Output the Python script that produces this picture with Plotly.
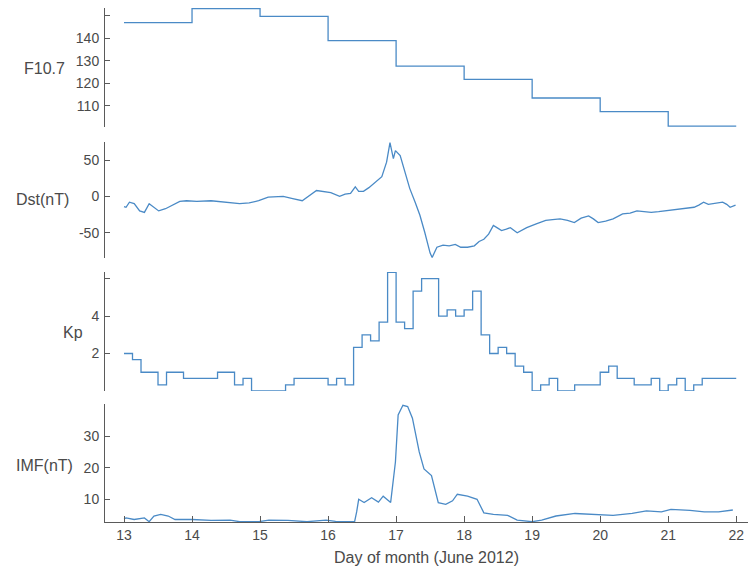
import plotly.graph_objects as go

# ---------------- data ----------------
f107_day = [13, 14, 15, 16, 17, 18, 19, 20, 21, 22]
f107_val = [147, 153.2, 149.8, 139, 127.7, 121.8, 113.5, 107.4, 101, 101]

dst_day = [13.0, 13.03, 13.08, 13.15, 13.23, 13.30, 13.37, 13.44, 13.51, 13.61, 13.72, 13.82,
           13.92, 14.07, 14.28, 14.49, 14.70, 14.84, 14.98, 15.12, 15.34, 15.48, 15.62, 15.83,
           15.95, 16.04, 16.17, 16.25, 16.33, 16.40, 16.45, 16.52, 16.60, 16.71, 16.79, 16.86,
           16.91, 16.96, 16.99, 17.06, 17.13, 17.20, 17.28, 17.35, 17.42, 17.50, 17.53, 17.60,
           17.69, 17.78, 17.87, 17.95, 18.05, 18.15, 18.22, 18.29, 18.36, 18.43, 18.50, 18.55,
           18.62, 18.68, 18.78, 18.85, 18.92, 19.06, 19.13, 19.20, 19.30, 19.41, 19.52, 19.62,
           19.72, 19.83, 19.90, 19.97, 20.08, 20.19, 20.33, 20.44, 20.54, 20.65, 20.75, 20.86,
           20.96, 21.07, 21.17, 21.28, 21.38, 21.45, 21.52, 21.59, 21.66, 21.73, 21.80, 21.86,
           21.91, 21.99]
dst_val = [-14, -15, -8, -10, -20, -22, -10, -15, -20, -17, -12, -7,
           -6, -7, -6, -8, -10, -9, -6, -1, 0, -3, -6, 8,
           6, 5, 0, 3, 4, 13, 7, 7, 12, 20, 27, 47,
           74, 52, 63, 56, 35, 11, -8, -26, -49, -78, -84, -70,
           -67, -68, -66, -70, -70, -68, -62, -59, -52, -40, -44, -47,
           -45, -43, -50, -46, -43, -38, -35, -33, -32, -31, -33, -36,
           -30, -27, -31, -36, -34, -31, -24, -23, -20, -21, -22, -21,
           -20, -19, -17, -16, -15, -12, -8, -11, -10, -9, -8, -11,
           -15, -12]

kp_val = [2.0, 1.67, 1.0, 1.0, 0.33, 1.0, 1.0, 0.67,
          0.67, 0.67, 0.67, 1.0, 1.0, 0.33, 0.67, 0.0,
          0.0, 0.0, 0.0, 0.33, 0.67, 0.67, 0.67, 0.67,
          0.33, 0.67, 0.33, 2.33, 3.0, 2.67, 3.67, 6.33,
          3.67, 3.33, 5.33, 6.0, 6.0, 4.0, 4.33, 4.0,
          4.33, 5.33, 3.0, 2.0, 2.33, 2.0, 1.33, 1.0,
          0.0, 0.33, 0.67, 0.0, 0.0, 0.33, 0.33, 0.33,
          1.0, 1.33, 0.67, 0.67, 0.33, 0.33, 0.67, 0.0,
          0.33, 0.67, 0.0, 0.33, 0.67, 0.67, 0.67, 0.67]
kp_day = [13 + i / 8 for i in range(len(kp_val) + 1)]
kp_plot = kp_val + [kp_val[-1]]

imf_day = [13.0, 13.03, 13.15, 13.30, 13.37, 13.44, 13.54, 13.65, 13.75, 14.00, 14.28, 14.56,
           14.70, 14.98, 15.13, 15.41, 15.69, 15.97, 16.11, 16.39, 16.42, 16.45, 16.53, 16.64,
           16.74, 16.81, 16.92, 16.99, 17.03, 17.10, 17.17, 17.24, 17.34, 17.41, 17.52, 17.62,
           17.73, 17.83, 17.90, 18.05, 18.19, 18.29, 18.43, 18.64, 18.78, 19.00, 19.14, 19.35,
           19.63, 19.91, 20.19, 20.47, 20.68, 20.90, 21.04, 21.32, 21.53, 21.74, 21.95]
imf_val = [3.8, 4.1, 3.6, 4.1, 2.9, 4.7, 5.2, 4.7, 3.6, 3.6, 3.3, 3.4,
           2.9, 2.9, 3.4, 3.3, 2.9, 3.4, 3.0, 2.9, 6.0, 10.0, 9.0, 10.5,
           9.1, 11.0, 9.0, 21.8, 36.7, 39.8, 39.4, 35.7, 25.0, 19.6, 17.5, 8.9,
           8.4, 9.5, 11.6, 11.0, 10.0, 5.7, 5.2, 4.9, 3.4, 2.9, 3.4, 4.7,
           5.5, 5.2, 4.9, 5.5, 6.3, 6.0, 6.8, 6.5, 6.0, 6.0, 6.6]

x_ticks = [13, 14, 15, 16, 17, 18, 19, 20, 21, 22]

# ---------------- styling ----------------
W, H = 748, 572
L, R, T, B = 105, 0, 8, 50
line_col = '#4a8ac6'
axis_col = '#5a5a5a'
txt_col = '#4a4a4a'
FONT = 'Liberation Sans, Arial, sans-serif'
plot_h = H - T - B


def dom(top_px, bot_px):
    return [(H - B - bot_px) / plot_h, (H - B - top_px) / plot_h]


fig = go.Figure()
fig.add_trace(go.Scatter(x=f107_day, y=f107_val, mode='lines',
                         line=dict(color=line_col, width=1.3, shape='hv'),
                         xaxis='x', yaxis='y'))
fig.add_trace(go.Scatter(x=dst_day, y=dst_val, mode='lines',
                         line=dict(color=line_col, width=1.3),
                         xaxis='x', yaxis='y2'))
fig.add_trace(go.Scatter(x=kp_day, y=kp_plot, mode='lines',
                         line=dict(color=line_col, width=1.3, shape='hv'),
                         xaxis='x', yaxis='y3'))
fig.add_trace(go.Scatter(x=imf_day, y=imf_val, mode='lines',
                         line=dict(color=line_col, width=1.3),
                         xaxis='x', yaxis='y4'))

yax_common = dict(showline=True, linecolor=axis_col, linewidth=1, ticks='inside',
                  ticklen=5, tickcolor=axis_col, showgrid=False, zeroline=False,
                  anchor='x', tickfont=dict(family=FONT, size=14, color=txt_col),
                  ticklabelstandoff=2)

fig.update_layout(
    width=W, height=H,
    margin=dict(l=L, r=R, t=T, b=B),
    paper_bgcolor='white', plot_bgcolor='white',
    showlegend=False,
    xaxis=dict(domain=[0, 1], range=[12.7207, 22.173], anchor='y4',
               showline=True, linecolor=axis_col, linewidth=1,
               ticks='inside', ticklen=6, tickcolor=axis_col,
               tickvals=x_ticks, ticktext=[str(v) for v in x_ticks],
               showgrid=False, zeroline=False, ticklabeloverflow='allow',
               tickfont=dict(family=FONT, size=14, color=txt_col),
               title=dict(text='Day of month (June 2012)', standoff=10,
                          font=dict(family=FONT, size=16, color=txt_col))),
    yaxis=dict(domain=dom(8, 127), range=[100.6, 153.5],
               tickvals=[110, 120, 130, 140, 150],
               ticktext=['110', '120', '130', '140', ''], **yax_common),
    yaxis2=dict(domain=dom(142, 258), range=[-84.8, 74.8],
                tickvals=[-50, 0, 50], ticktext=['-50', '0', '50'], **yax_common),
    yaxis3=dict(domain=dom(272, 391), range=[0, 6.35],
                tickvals=[0, 2, 4, 6], ticktext=['', '2', '4', ''], **yax_common),
    yaxis4=dict(domain=dom(404, 522), range=[2.8, 40.2],
                tickvals=[10, 20, 30, 40], ticktext=['10', '20', '30', ''], **yax_common),
)

titles = [('F10.7', 67, 68), ('Dst(nT)', 71, 199), ('Kp', 85, 332), ('IMF(nT)', 75, 465)]
for text, xr, yc in titles:
    fig.add_annotation(text=text, xref='paper', yref='paper', x=0, y=(H - B - yc) / plot_h,
                       xanchor='right', yanchor='middle', xshift=xr - L, showarrow=False,
                       font=dict(family=FONT, size=16, color=txt_col))

fig.write_html('out.html', config={'displayModeBar': False},
               post_script="document.body.style.margin='0';")
